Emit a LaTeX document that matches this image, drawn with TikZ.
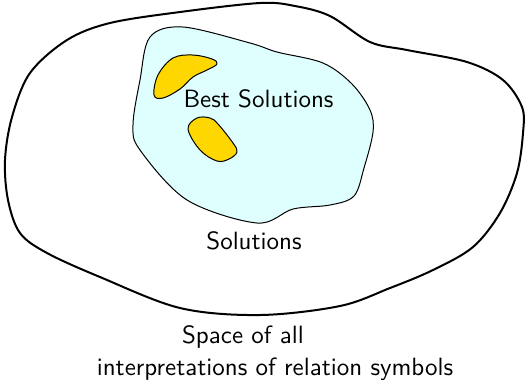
\documentclass[tikz,border=0pt]{standalone}
\usetikzlibrary{positioning}
\definecolor{solfill}{HTML}{DFFFFF}
\definecolor{bestfill}{HTML}{FFD700}
\begin{document}
\begin{tikzpicture}[x=0.4pt,y=-0.4pt,
  region/.style={draw=black,line join=round},
  lbl/.style={font=\sffamily,inner sep=0pt}]
\useasboundingbox (0,0) rectangle (526,383);
% outer space
\draw[region,line width=0.8pt] plot[smooth cycle,tension=0.55] coordinates {
 (5,160) (12,117) (30,73) (67,40) (110,23) (180,12) (260,3) (295,6) (330,16)
 (370,42) (407,50) (467,62) (503,80) (522,107) (523,133) (517,173) (500,213)
 (473,247) (433,270) (390,288) (340,306) (260,315) (180,308) (100,277)
 (47,253) (20,233) (8,200)};
% solutions
\draw[region,thin,fill=solfill] plot[smooth cycle,tension=0.55] coordinates {
 (150,37) (183,27) (250,43) (277,52) (323,63) (352,84) (370,110) (373,132)
 (364,168) (354,196) (330,205) (293,209) (257,223) (187,200) (140,150) (133,125) (140,80)};
% best solutions
\draw[region,thin,fill=bestfill] plot[smooth cycle,tension=0.6] coordinates {
 (154,95) (158,75) (173,58) (193,55) (212,59) (217,64) (207,70)
 (193,77) (180,89) (163,98)};
\draw[region,thin,fill=bestfill] plot[smooth cycle,tension=0.6] coordinates {
 (188,129) (197,118) (210,118) (218,124) (233,143) (237,152) (229,159)
 (217,161) (200,150)};
\node[lbl] (best) at (258.5,99) {Best Solutions};
\node[lbl] (sol) at (254,241) {Solutions};
\node[lbl] (space1) at (243,337) {Space of all};
\node[lbl] (space2) at (275,369) {interpretations of relation symbols};
\end{tikzpicture}
\end{document}
